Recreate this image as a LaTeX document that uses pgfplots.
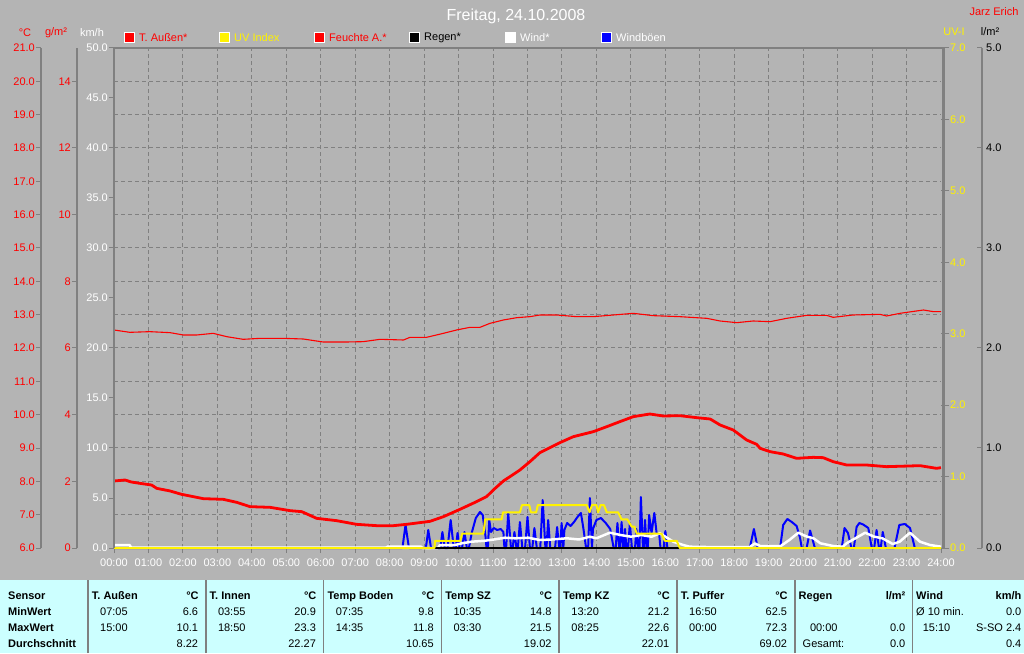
\documentclass[border=0pt]{standalone}
\usepackage{fontspec}
\setmainfont{Liberation Sans}
\usepackage{pgfplots}
\pgfplotsset{compat=1.18}
\definecolor{bg}{HTML}{B4B4B4}
\definecolor{gridc}{HTML}{808080}
\definecolor{tablebg}{HTML}{CCFFFF}
\newcommand{\f}{\fontsize{11}{13}\selectfont}
\newcommand{\fb}{\fontsize{11}{13}\selectfont\bfseries}
\pgfkeys{/pgf/number format/assume math mode=true}
\pgfplotsset{
 base/.style={scale only axis, width=827pt, height=500pt, at={(114pt,105pt)}, anchor=south west, xmin=0, xmax=24, clip=false},
 mini/.style={scale only axis, width=1pt, height=500pt, anchor=south west, xmin=0, xmax=1, axis x line=none, clip=false,
   major tick length=5pt, y axis line style={gridc, line width=1.2pt}, ytick style={gridc, line width=1pt},
   yticklabel style={font=\f, inner sep=1pt}},
 onedec/.style={yticklabel style={/pgf/number format/fixed, /pgf/number format/fixed zerofill, /pgf/number format/precision=1}},
}
\newcommand{\tcol}[9]{%
 \node[anchor=base west,font=\fb,inner sep=0] at ({#1+3.7},54) {#3};
 \node[anchor=base east,font=\fb,inner sep=0] at ({#2-7},54) {#4};
 \node[anchor=base west,font=\f,inner sep=0] at ({#1+12},38) {#5};
 \node[anchor=base east,font=\f,inner sep=0] at ({#2-7.5},38) {#6};
 \node[anchor=base west,font=\f,inner sep=0] at ({#1+12},22) {#7};
 \node[anchor=base east,font=\f,inner sep=0] at ({#2-7.5},22) {#8};
 \node[anchor=base east,font=\f,inner sep=0] at ({#2-7.5},6) {#9};
}
\begin{document}
\begin{tikzpicture}[x=1pt,y=1pt]
\fill[bg] (0,0) rectangle (1024,653);
\fill[tablebg] (0,0) rectangle (1024,73);

% grid axis (degrees C grid)
\begin{axis}[base, ymin=6, ymax=21, axis lines*=left, axis line style={draw=none},
  xtick={1,...,23}, ytick={7,...,20}, xticklabels={}, yticklabels={}, major tick length=0pt,
  grid=major, major grid style={gridc, dash pattern=on 4pt off 3pt, line width=1pt}]
\end{axis}

% km/h axis with wind and gusts
\begin{axis}[base, ymin=0, ymax=50, axis lines*=left, axis line style={draw=none},
  xtick={0,...,24},
  xticklabels={00:00,01:00,02:00,03:00,04:00,05:00,06:00,07:00,08:00,09:00,10:00,11:00,12:00,13:00,14:00,15:00,16:00,17:00,18:00,19:00,20:00,21:00,22:00,23:00,24:00},
  ytick={0,5,...,50}, tick align=outside, major tick length=5pt,
  tick style={gridc, line width=1pt},
  tick label style={font=\f, text=white},
  xticklabel style={inner sep=2pt, yshift=-4pt},
  yticklabel style={inner sep=1pt}, onedec]
\addplot[blue, line width=2pt, line join=round] coordinates {
(0,0)(8.37,0)(8.46,2.3)(8.56,0)(9.05,0)(9.12,1.8)(9.2,0)
(9.47,0)(9.53,1.6)(9.6,0)(9.68,0)(9.77,2.8)(9.86,0)(9.92,0)(9.97,1.5)(10.03,0)(10.1,0)(10.17,1.6)(10.24,0)
(10.3,0)(10.38,1.5)(10.5,3.0)(10.62,3.6)(10.7,3.3)(10.78,1.2)(10.81,0)(10.85,0)(10.89,2.8)(10.94,1.6)(11.02,2.0)(11.12,1.8)(11.22,1.9)(11.3,1.6)(11.33,0)
(11.38,0)(11.44,3.5)(11.52,0)(11.57,0)(11.62,1.6)(11.68,0)(11.72,0)(11.78,2.6)(11.85,0)(11.93,0)(12.0,3.1)(12.07,0)(12.14,0)(12.2,2.0)(12.27,0)(12.37,0)(12.44,4.8)(12.52,0)(12.55,0)(12.6,2.8)(12.66,0)(12.8,0)(12.86,2.1)(12.92,0)(12.95,0)(12.99,2.5)(13.04,0)(13.07,1.8)(13.15,2.5)(13.25,2.2)(13.35,2.6)(13.45,3.1)(13.55,3.5)(13.62,2.0)(13.7,0)(13.76,0)(13.81,5.0)(13.87,0)(13.9,1.9)(14.0,2.8)(14.13,3.0)(14.27,2.5)(14.4,1.9)(14.5,0)(14.56,0)(14.61,2.5)(14.66,0)(14.69,0)(14.73,2.6)(14.78,0)(14.8,0)(14.83,1.9)(14.87,0)(14.92,0)(14.97,2.5)(15.03,0)(15.12,0)(15.16,1.9)(15.21,0)(15.25,0)(15.29,5.1)(15.35,0)(15.38,0)(15.41,2.8)(15.46,0)(15.49,0)(15.53,3.3)(15.6,1.5)(15.68,3.5)(15.75,1.4)(15.82,1.4)(15.86,0)(15.95,0)(16.0,1.7)(16.06,0)
(18.45,0)(18.57,1.9)(18.68,0)(19.33,0)(19.42,2.3)(19.54,2.9)(19.67,2.6)(19.81,2.2)(19.91,1.0)(19.96,0)(20.1,0)(20.2,1.75)(20.34,0)(21.12,0)(21.2,2.0)(21.3,1.5)(21.4,0)(21.47,0)(21.55,2.1)(21.63,2.5)(21.74,2.35)(21.89,2.0)(21.99,0)(22.06,0)(22.13,1.8)(22.2,0)(22.25,0)(22.31,1.6)(22.4,0)(22.65,0)(22.79,2.3)(22.95,2.4)(23.1,2.0)(23.24,0)(24,0)};
\addplot[white, line width=2.5pt, line join=round] coordinates {
(0,0.3)(0.45,0.3)(0.5,0.05)(7.9,0.05)(7.95,0.15)(8.9,0.15)(8.95,0.0)(9.4,0)(9.46,0.3)(9.9,0.3)(10.09,0.47)(10.38,0.63)(10.77,0.73)(11.06,0.87)(11.35,1.03)(11.64,0.97)(12.02,1.03)(12.36,0.8)(12.7,0.85)(13.14,0.97)(13.5,0.85)(13.81,1.13)(14.0,0.97)(14.39,1.53)(14.7,1.3)(15.0,1.13)(15.3,1.3)(15.6,1.13)(15.84,1.47)(16.0,1.13)(16.23,0.63)(16.52,0.3)(16.7,0.13)(17.5,0.08)(18.45,0.1)(18.6,0.45)(18.75,0.2)(19.35,0.2)(19.6,0.8)(19.86,1.53)(20.1,1.15)(20.3,0.97)(20.5,0.47)(20.87,0.2)(21.15,0.13)(21.26,0.47)(21.8,1.53)(22.04,1.15)(22.3,0.97)(22.6,0.4)(22.8,0.63)(23.1,1.53)(23.39,0.63)(23.68,0.3)(24,0.13)};
\end{axis}

% rain (l/m2) full axis
\begin{axis}[base, ymin=0, ymax=5, hide axis]
\addplot[black, line width=2pt] coordinates {(0,0)(24,0)};
\end{axis}

% UV axis
\begin{axis}[base, ymin=0, ymax=7, axis x line=none, axis y line*=right, y axis line style={draw=none},
  ytick={0,...,7}, tick align=outside, major tick length=8pt, ytick style={gridc, line width=1pt},
  yticklabel style={font=\f, text=yellow, inner sep=1pt}, onedec]
\addplot[yellow, line width=2pt, line join=round] coordinates {
(0,0)(9.30,0)(9.32,0.1)(10.05,0.1)(10.1,0.2)(10.72,0.2)(10.77,0.4)(11.25,0.4)(11.29,0.5)(11.78,0.5)(11.84,0.6)(12.05,0.6)(12.1,0.5)(12.25,0.5)(12.3,0.6)(13.72,0.6)(13.8,0.5)(13.87,0.6)(14.0,0.6)(14.05,0.5)(14.12,0.6)(14.22,0.6)(14.3,0.5)(14.63,0.5)(14.73,0.4)(14.9,0.4)(15.02,0.3)(15.1,0.3)(15.17,0.2)(15.89,0.2)(15.99,0.1)(16.33,0.1)(16.42,0)(24,0)};
\end{axis}

% Temperature (deg C) full axis
\begin{axis}[base, ymin=6, ymax=21, hide axis]
\addplot[red, line width=2.8pt, line join=round] coordinates {
(0,8.01)(0.32,8.04)(0.5,7.98)(0.75,7.94)(1.09,7.89)(1.24,7.79)(1.63,7.71)(1.96,7.61)(2.30,7.54)(2.59,7.48)(3.17,7.46)(3.56,7.37)(3.95,7.24)(4.53,7.22)(5.11,7.12)(5.45,7.09)(5.88,6.89)(6.46,6.82)(7.04,6.71)(7.62,6.67)(8.11,6.67)(8.49,6.71)(9.17,6.80)(9.56,6.94)(10.04,7.16)(10.52,7.39)(10.81,7.54)(11.05,7.78)(11.30,8.01)(11.78,8.34)(12.07,8.59)(12.36,8.86)(12.94,9.16)(13.33,9.34)(13.91,9.49)(14.30,9.64)(14.68,9.79)(15.07,9.94)(15.55,10.02)(15.94,9.96)(16.42,9.97)(16.91,9.91)(17.30,9.87)(17.59,9.69)(17.97,9.54)(18.36,9.24)(18.65,9.11)(18.75,8.99)(19.04,8.89)(19.42,8.82)(19.81,8.69)(20.29,8.72)(20.58,8.71)(20.87,8.59)(21.26,8.49)(21.84,8.49)(22.42,8.44)(23.39,8.47)(23.87,8.39)(24,8.41)};
\end{axis}

% Humidity (g/m3) full axis
\begin{axis}[base, ymin=0, ymax=15, hide axis]
\addplot[red, line width=1.1pt] coordinates {
(0,6.54)(0.46,6.47)(1.04,6.49)(1.63,6.46)(2.01,6.39)(2.40,6.39)(2.88,6.44)(3.27,6.34)(3.75,6.26)(4.24,6.29)(4.91,6.29)(5.49,6.27)(6.07,6.18)(6.75,6.18)(7.23,6.19)(7.72,6.26)(8.40,6.24)(8.59,6.32)(9.07,6.32)(9.56,6.44)(9.94,6.54)(10.33,6.62)(10.62,6.62)(10.91,6.74)(11.30,6.84)(11.69,6.91)(12.07,6.94)(12.36,6.99)(12.85,6.99)(13.43,6.94)(13.91,6.94)(14.49,6.99)(15.07,7.04)(15.65,6.97)(16.42,6.94)(17.20,6.89)(17.59,6.81)(18.07,6.76)(18.55,6.81)(19.04,6.79)(19.52,6.89)(20.10,6.98)(20.68,6.98)(20.87,6.92)(21.45,6.99)(22.23,7.01)(22.42,6.96)(22.81,7.04)(23.49,7.14)(23.78,7.09)(24,7.09)};
\end{axis}

% left mini axes
\begin{axis}[mini, at={(41pt,105pt)}, ymin=6, ymax=21, axis y line*=left, ytick={6,...,21},
  tick align=outside, yticklabel style={text=red}, onedec]
\end{axis}
\begin{axis}[mini, at={(77pt,105pt)}, ymin=0, ymax=15, axis y line*=left, ytick={0,2,...,14},
  tick align=outside, yticklabel style={text=red}]
\end{axis}
% right mini axis l/m2
\begin{axis}[mini, at={(981pt,105pt)}, ymin=0, ymax=5, axis y line*=right, ytick={0,...,5},
  tick align=inside, yticklabel style={text=black, inner sep=4pt}, onedec]
\end{axis}

% frame
\draw[gridc, line width=2pt] (114,105) -- (114,605) -- (942,605);
\draw[gridc, line width=3pt] (943.5,105) -- (943.5,606);

% axis headers
\node[font=\f, text=red] at (25,620) {°C};
\node[font=\f, text=red] at (56,620) {g/m²};
\node[font=\f, text=white] at (92,620) {km/h};
\node[font=\f, text=yellow] at (954,621) {UV-I};
\node[font=\f, text=black] at (990,621) {l/m²};

% title
\node[font=\fontsize{16}{18}\selectfont, text=white] at (516,637) {Freitag, 24.10.2008};
\node[font=\f, text=red, anchor=east] at (1022,641) {Jarz Erich};

% legend
\foreach \xx/\cc/\tc/\tt in {124/red/red/{T. Außen*}, 219/yellow/yellow/{UV Index}, 314/red/red/{Feuchte A.*}, 409/black/black/{Regen*}, 505/white/white/{Wind*}, 601/blue/white/{Windböen}} {
  \filldraw[fill=\cc, draw=white, line width=1pt] (\xx,610) rectangle ++(10,10);
  \node[font=\f, text=\tc, anchor=west, inner sep=0] at (\xx+15,615) {\tt};
}

% table
\foreach \s in {88,205.8,323.6,441.4,559.2,677,794.8,912.6} {
  \draw[gridc, line width=1.6pt] (\s,0) -- (\s,73);
}
\node[anchor=base west,font=\fb,inner sep=0] at (8,54) {Sensor};
\node[anchor=base west,font=\fb,inner sep=0] at (8,38) {MinWert};
\node[anchor=base west,font=\fb,inner sep=0] at (8,22) {MaxWert};
\node[anchor=base west,font=\fb,inner sep=0] at (8,6) {Durchschnitt};
\tcol{88}{205.8}{T. Außen}{°C}{07:05}{6.6}{15:00}{10.1}{8.22}
\tcol{205.8}{323.6}{T. Innen}{°C}{03:55}{20.9}{18:50}{23.3}{22.27}
\tcol{323.6}{441.4}{Temp Boden}{°C}{07:35}{9.8}{14:35}{11.8}{10.65}
\tcol{441.4}{559.2}{Temp SZ}{°C}{10:35}{14.8}{03:30}{21.5}{19.02}
\tcol{559.2}{677}{Temp KZ}{°C}{13:20}{21.2}{08:25}{22.6}{22.01}
\tcol{677}{794.8}{T. Puffer}{°C}{16:50}{62.5}{00:00}{72.3}{69.02}
% Regen
\node[anchor=base west,font=\fb,inner sep=0] at (798.5,54) {Regen};
\node[anchor=base east,font=\fb,inner sep=0] at (905.5,54) {l/m²};
\node[anchor=base west,font=\f,inner sep=0] at (809.8,22) {00:00};
\node[anchor=base east,font=\f,inner sep=0] at (905.5,22) {0.0};
\node[anchor=base west,font=\f,inner sep=0] at (802.5,6) {Gesamt:};
\node[anchor=base east,font=\f,inner sep=0] at (905.5,6) {0.0};
% Wind
\node[anchor=base west,font=\fb,inner sep=0] at (916,54) {Wind};
\node[anchor=base east,font=\fb,inner sep=0] at (1021.5,54) {km/h};
\node[anchor=base west,font=\f,inner sep=0] at (916,38) {Ø 10 min.};
\node[anchor=base east,font=\f,inner sep=0] at (1021.5,38) {0.0};
\node[anchor=base west,font=\f,inner sep=0] at (922.6,22) {15:10};
\node[anchor=base east,font=\f,inner sep=0] at (1021.5,22) {S-SO 2.4};
\node[anchor=base east,font=\f,inner sep=0] at (1021.5,6) {0.4};

\pgfresetboundingbox
\useasboundingbox (0,0) rectangle (1024,653);
\end{tikzpicture}
\end{document}
